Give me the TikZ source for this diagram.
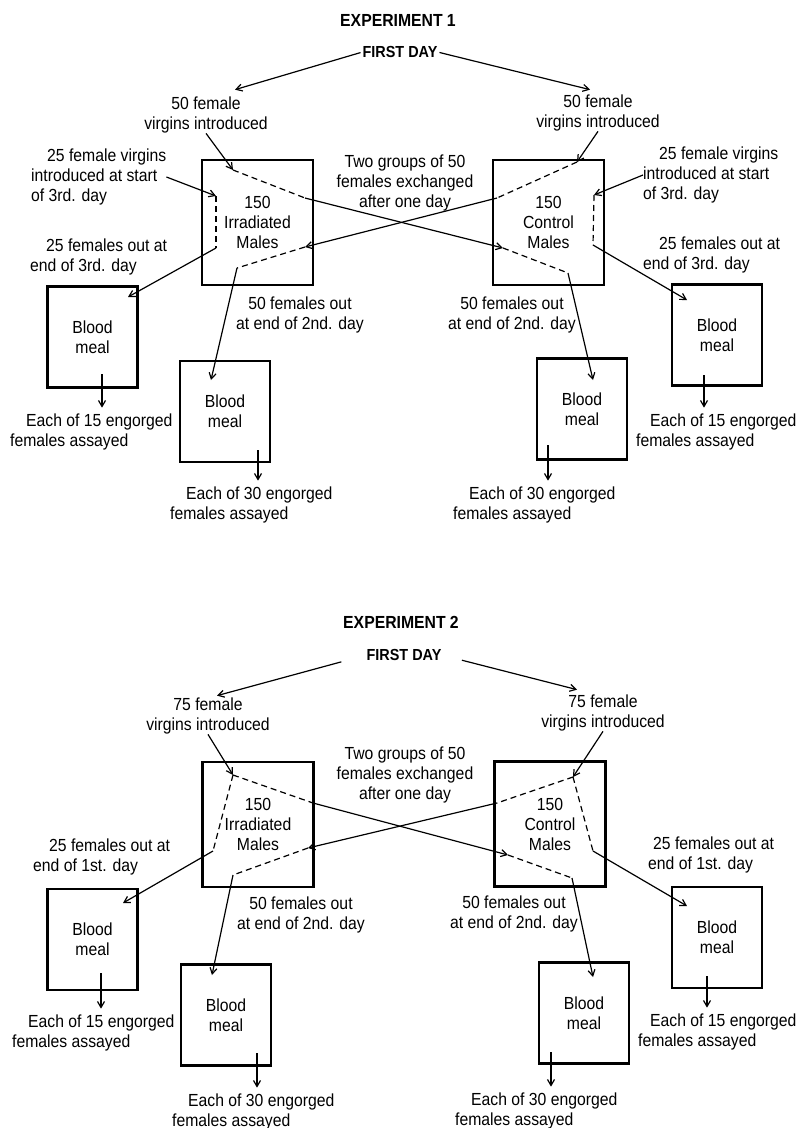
\documentclass[tikz,border=0pt]{standalone}
\usepackage{fontspec}
\setmainfont{Liberation Sans}[FakeStretch=0.9]
\usetikzlibrary{arrows.meta}
\newcommand{\firstin}{\hspace*{16pt}}

\begin{document}
\begin{tikzpicture}[
    x=1pt, y=-1pt,
    >={Straight Barb[length=6pt, width=7pt]},
    txt/.style={font=\fontsize{17.5}{20}\selectfont, inner sep=0pt, align=center},
    ragged/.style={txt, align=left, anchor=west},
    head/.style={font=\fontsize{17.5}{20}\selectfont\bfseries, inner sep=0pt},
    day/.style={font=\fontsize{16}{20}\selectfont\bfseries, inner sep=0pt},
    cage/.style={txt, draw, line width=2.6pt, minimum width=111pt, minimum height=125pt},
    meal/.style={txt, draw, line width=2.2pt, minimum width=90pt, minimum height=101pt},
    flow/.style={->, line width=1.2pt},
    hop/.style={line width=1.2pt, dash pattern=on 6pt off 4pt}
]
\useasboundingbox (0,0) rectangle (801,1128);

% ================= Experiment 1 =================
\node[head] (title1) at (398,20) {EXPERIMENT 1};
\node[day] (first1) at (400,52) {FIRST DAY};

% cages
\node[cage] (irr1) at (257.5,222.5) {150\\Irradiated\\Males};
\node[cage] (con1) at (548.5,222.5) {150\\Control\\Males};

% blood meal boxes
\node[meal] (mealL1) at (92.5,337) {Blood\\meal};
\node[meal] (mealML1) at (225,411.5) {Blood\\meal};
\node[meal] (mealMR1) at (582,409) {Blood\\meal};
\node[meal] (mealR1) at (717,335) {Blood\\meal};

% labels
\node[txt] (virL1) at (206,115) {50 female\\virgins introduced};
\node[txt] (virR1) at (598,113) {50 female\\virgins introduced};
\node[txt] (swap1) at (405,183) {Two groups of 50\\females exchanged\\after one day};
\node[ragged] (late3L1) at (31,177) {\firstin 25 female virgins\\introduced at start\\of 3rd. day};
\node[ragged] (late3R1) at (643,175) {\firstin 25 female virgins\\introduced at start\\of 3rd. day};
\node[ragged] (out3L1) at (30,257) {\firstin 25 females out at\\end of 3rd. day};
\node[ragged] (out3R1) at (643,255) {\firstin 25 females out at\\end of 3rd. day};
\node[txt] (out2L1) at (300,315) {50 females out\\at end of 2nd. day};
\node[txt] (out2R1) at (512,315) {50 females out\\at end of 2nd. day};
\node[ragged] (ass15L1) at (10,432) {\firstin Each of 15 engorged\\females assayed};
\node[ragged] (ass30L1) at (170,505) {\firstin Each of 30 engorged\\females assayed};
\node[ragged] (ass30R1) at (453,505) {\firstin Each of 30 engorged\\females assayed};
\node[ragged] (ass15R1) at (636,432) {\hspace*{14pt}Each of 15 engorged\\females assayed};

% bend points
\coordinate (a1) at (233,170);
\coordinate (a2) at (305,198);
\coordinate (a3) at (503,248);
\coordinate (a4) at (568,273);
\coordinate (inMR1) at (593,380);
\coordinate (b1) at (577,162);
\coordinate (b2) at (497,198);
\coordinate (b3) at (305,247);
\coordinate (b4) at (237,268);
\coordinate (inML1) at (211,380);
\coordinate (c1) at (216,196);
\coordinate (c2) at (216,248);
\coordinate (inL1) at (128,297);
\coordinate (d1) at (594,195);
\coordinate (d2) at (593,245);
\coordinate (inR1) at (687,300);
\coordinate (dnL1) at (102,374);
\coordinate (dnML1) at (258,450);
\coordinate (dnMR1) at (548,445);
\coordinate (dnR1) at (704,375);

% first day
\draw[flow, shorten <=2pt] (first1.west) -- ([xshift=29pt, yshift=7pt]virL1.north);
\draw[flow, shorten <=2pt] (first1.east) -- ([xshift=-8pt, yshift=5pt]virR1.north);

% irradiated group to control cage
\draw[flow] (virL1.south) -- (a1);
\draw[hop] (a1) -- (a2) (a3) -- (a4);
\draw[flow] (a2) -- (a3);
\draw[flow] (a4) -- (inMR1);

% control group to irradiated cage
\draw[flow] (virR1.south) -- (b1);
\draw[hop] (b1) -- (b2) (b3) -- (b4);
\draw[flow] (b2) -- (b3);
\draw[flow] (b4) -- (inML1);

% 3rd day groups
\draw[flow] (late3L1.east) -- (c1);
\draw[hop] (c1) -- (c2);
\draw[flow] (c2) -- (inL1);
\draw[flow] (late3R1.west) -- (d1);
\draw[hop] (d1) -- (d2);
\draw[flow] (d2) -- (inR1);

% assays
\draw[flow, shorten >=6pt] (dnL1) -- (dnL1 |- ass15L1.north);
\draw[flow, shorten >=6pt] (dnML1) -- (dnML1 |- ass30L1.north);
\draw[flow, shorten >=6pt] (dnMR1) -- (dnMR1 |- ass30R1.north);
\draw[flow, shorten >=6pt] (dnR1) -- (dnR1 |- ass15R1.north);

% ================= Experiment 2 =================
\node[head] (title2) at (401,622) {EXPERIMENT 2};
\node[day] (first2) at (404,655) {FIRST DAY};

% cages
\node[cage] (irr2) at (258,824.5) {150\\Irradiated\\Males};
\node[cage] (con2) at (550,824) {150\\Control\\Males};

% blood meal boxes
\node[meal] (mealL2) at (92.5,939.5) {Blood\\meal};
\node[meal] (mealML2) at (226,1015) {Blood\\meal};
\node[meal] (mealMR2) at (584,1013) {Blood\\meal};
\node[meal] (mealR2) at (717,937.5) {Blood\\meal};

% labels
\node[txt] (virL2) at (208,716) {75 female\\virgins introduced};
\node[txt] (virR2) at (603,713) {75 female\\virgins introduced};
\node[txt] (swap2) at (405,775) {Two groups of 50\\females exchanged\\after one day};
\node[ragged] (out1L2) at (33,857) {\firstin 25 females out at\\end of 1st. day};
\node[ragged] (out1R2) at (648,855) {\hspace*{5pt}25 females out at\\end of 1st. day};
\node[txt] (out2L2) at (301,915) {50 females out\\at end of 2nd. day};
\node[txt] (out2R2) at (514,914) {50 females out\\at end of 2nd. day};
\node[ragged] (ass15L2) at (12,1033) {\firstin Each of 15 engorged\\females assayed};
\node[ragged] (ass30L2) at (172,1112) {\firstin Each of 30 engorged\\females assayed};
\node[ragged] (ass30R2) at (455,1111) {\firstin Each of 30 engorged\\females assayed};
\node[ragged] (ass15R2) at (638,1032) {\hspace*{12pt}Each of 15 engorged\\females assayed};

% bend points
\coordinate (p) at (233,775);
\coordinate (p1) at (313,803);
\coordinate (p2) at (508,855);
\coordinate (p3) at (572,878);
\coordinate (inMR2) at (593,977);
\coordinate (p4) at (213,851);
\coordinate (inL2) at (123,903);
\coordinate (q) at (573,777);
\coordinate (q1) at (497,803);
\coordinate (q2) at (308,848);
\coordinate (q3) at (233,875);
\coordinate (inML2) at (212,975);
\coordinate (q4) at (593,851);
\coordinate (inR2) at (687,906);
\coordinate (dnL2) at (101,973);
\coordinate (dnML2) at (257,1053);
\coordinate (dnMR2) at (551,1052);
\coordinate (dnR2) at (707,976);

% first day
\draw[flow, shorten <=26pt] (first2.west) -- ([xshift=9pt, yshift=2pt]virL2.north);
\draw[flow, shorten <=21pt] (first2.east) -- ([xshift=-26pt, yshift=5pt]virR2.north);

% irradiated cage: 25 out after day 1, 50 exchanged
\draw[flow] (virL2.south) -- (p);
\draw[hop] (p) -- (p1) (p2) -- (p3) (p) -- (p4);
\draw[flow] (p1) -- (p2);
\draw[flow] (p3) -- (inMR2);
\draw[flow] (p4) -- (inL2);

% control cage: 25 out after day 1, 50 exchanged
\draw[flow] (virR2.south) -- (q);
\draw[hop] (q) -- (q1) (q2) -- (q3) (q) -- (q4);
\draw[flow] (q1) -- (q2);
\draw[flow] (q3) -- (inML2);
\draw[flow] (q4) -- (inR2);

% assays
\draw[flow, shorten >=6pt] (dnL2) -- (dnL2 |- ass15L2.north);
\draw[flow, shorten >=6pt] (dnML2) -- (dnML2 |- ass30L2.north);
\draw[flow, shorten >=6pt] (dnMR2) -- (dnMR2 |- ass30R2.north);
\draw[flow, shorten >=6pt] (dnR2) -- (dnR2 |- ass15R2.north);

\end{tikzpicture}
\end{document}
